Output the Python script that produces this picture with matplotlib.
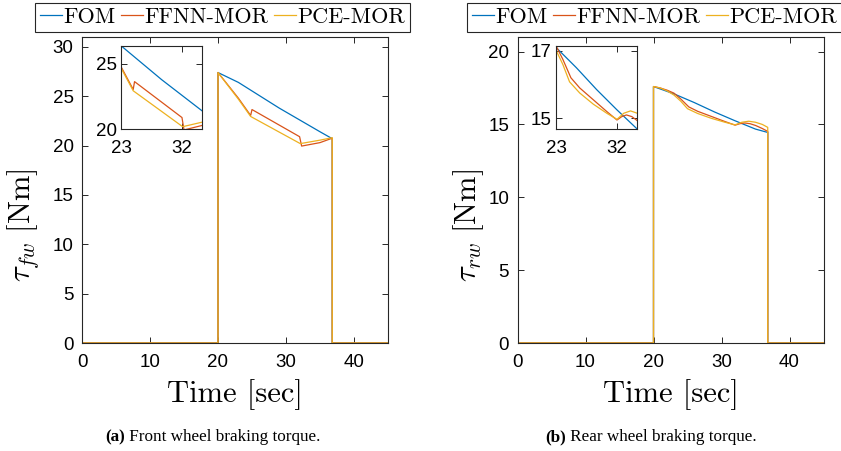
"""Front / rear wheel braking torque: FOM vs FFNN-MOR vs PCE-MOR, with zoom insets."""

import matplotlib

matplotlib.use("Agg")
import matplotlib.pyplot as plt
import numpy as np

plt.rcParams["font.family"] = ["Liberation Sans", "DejaVu Sans"]
plt.rcParams["mathtext.fontset"] = "cm"
plt.rcParams["axes.unicode_minus"] = False

# braking window (torque is zero outside it)
T_ON = 20.0
T_OFF = 36.8
T_END = 45.0

# front wheel (t in s, torque in Nm)
front_fom_t = [20, 23, 26, 29, 32, 35, 36.8]
front_fom_v = [27.4, 26.4, 25.1, 23.8, 22.6, 21.4, 20.7]
front_ffnn_t = [20, 23, 24.8, 25.0, 32.0, 32.3, 35, 36.8]
front_ffnn_v = [27.4, 24.8, 23.05, 23.65, 20.9, 19.95, 20.3, 20.75]
front_pce_t = [20, 23, 24.8, 32.1, 35, 36.8]
front_pce_v = [27.4, 24.7, 22.95, 20.2, 20.55, 20.8]

# rear wheel
rear_fom_t = [20, 23, 26, 29, 32, 35, 36.8]
rear_fom_v = [17.6, 17.1, 16.5, 15.85, 15.25, 14.68, 14.45]
rear_ffnn_t = [20, 21, 22, 23, 24, 25.2, 26.5, 28.5, 30.5, 32, 32.7, 33.4, 34.2, 35, 36, 36.8]
rear_ffnn_v = [17.6, 17.5, 17.35, 17.15, 16.75, 16.2, 15.9, 15.55, 15.2, 14.95, 15.05, 15.1,
               15.05, 14.93, 14.72, 14.52]
rear_pce_t = [20, 21, 22, 23, 24, 25.0, 26.5, 28.5, 30.5, 32, 33, 34, 35, 36, 36.8]
rear_pce_v = [17.6, 17.5, 17.3, 17.02, 16.6, 16.08, 15.75, 15.42, 15.15, 14.97, 15.15, 15.22,
              15.15, 15.0, 14.8]

labels = ["FOM", "FFNN-MOR", "PCE-MOR"]
colors = ["#0072BD", "#D95319", "#EDB120"]

W, H = 841, 451
SPINE = "#262626"


def full_series(t, v):
    """Pad the braking segment with the zero torque before and after it."""
    t = np.concatenate([[0.0], t, [T_OFF, T_END]])
    v = np.concatenate([[0.0], v, [0.0, 0.0]])
    t = np.insert(t, 1, T_ON)
    v = np.insert(v, 1, 0.0)
    return t, v


def style(ax, pad_x=8, pad_y=6):
    for s in ax.spines.values():
        s.set_color(SPINE)
        s.set_linewidth(0.8)
    ax.tick_params(direction="in", top=True, right=True, length=4, width=0.7,
                   color=SPINE, labelsize=13.5, labelcolor="black")
    ax.tick_params(axis="x", pad=pad_x)
    ax.tick_params(axis="y", pad=pad_y)


def px_rect(x0, y0, x1, y1):
    return [x0 / W, 1 - y1 / H, (x1 - x0) / W, (y1 - y0) / H]


fig = plt.figure(figsize=(W / 100, H / 100), dpi=100)

panels = [
    dict(rect=px_rect(82, 37, 388, 343), inset=px_rect(121, 45.7, 202.3, 129.3),
         series=[(front_fom_t, front_fom_v), (front_ffnn_t, front_ffnn_v),
                 (front_pce_t, front_pce_v)],
         ylim=(0, 31), yticks=[0, 5, 10, 15, 20, 25, 30],
         in_ylim=(20, 26.4), in_yticks=[20, 25],
         ylabel=r"$\tau_{fw}\ [\mathrm{Nm}]$", ylabel_x=41 / W,
         legend_x=35, cap_x=125, cap_bold="(a)", cap=" Front wheel braking torque."),
    dict(rect=px_rect(517.5, 37, 823.5, 343), inset=px_rect(556, 45.7, 637.3, 129.3),
         series=[(rear_fom_t, rear_fom_v), (rear_ffnn_t, rear_ffnn_v),
                 (rear_pce_t, rear_pce_v)],
         ylim=(0, 21), yticks=[0, 5, 10, 15, 20],
         in_ylim=(14.675, 17.15), in_yticks=[15, 17],
         ylabel=r"$\tau_{rw}\ [\mathrm{Nm}]$", ylabel_x=486 / W,
         legend_x=467, cap_x=565.5, cap_bold="(b)", cap=" Rear wheel braking torque."),
]

for p in panels:
    ax = fig.add_axes(p["rect"])
    for (t, v), lab, c in zip(p["series"], labels, colors):
        ft, fv = full_series(t, v)
        ax.plot(ft, fv, color=c, lw=0.9, label=lab)
    ax.set_xlim(0, T_END)
    ax.set_ylim(*p["ylim"])
    ax.set_xticks([0, 10, 20, 30, 40])
    ax.set_yticks(p["yticks"])
    style(ax)
    ax.set_xlabel("Time [sec]", family="cmr10", fontsize=22, labelpad=6)
    ax.set_ylabel(p["ylabel"], fontsize=22)
    ax.yaxis.set_label_coords(p["ylabel_x"], 0.5, transform=fig.transFigure)

    leg = ax.legend(loc="upper left", bbox_to_anchor=(p["legend_x"] / W, 1 - 2.7 / H),
                    bbox_transform=fig.transFigure, ncol=3, frameon=True, fancybox=False,
                    framealpha=1, edgecolor=SPINE, borderpad=0.22, borderaxespad=0,
                    handlelength=1.0, handletextpad=0.05, columnspacing=0.25,
                    prop={"family": "cmr10", "size": 16})
    leg.get_frame().set_linewidth(0.8)

    axi = fig.add_axes(p["inset"])
    for (t, v), c in zip(p["series"], colors):
        ft, fv = full_series(t, v)
        axi.plot(ft, fv, color=c, lw=0.9)
    axi.set_xlim(23, 35)
    axi.set_ylim(*p["in_ylim"])
    axi.set_xticks([23, 32])
    axi.set_yticks(p["in_yticks"])
    style(axi, pad_x=8, pad_y=3)

    fig.text(p["cap_x"] / W, 1 - 437 / H, p["cap_bold"], ha="right", va="center",
             family="Liberation Serif", fontweight="bold", fontsize=12.3)
    fig.text(p["cap_x"] / W, 1 - 437 / H, p["cap"], ha="left", va="center",
             family="Liberation Serif", fontsize=12.3)

fig.savefig("out.png", dpi=100)
